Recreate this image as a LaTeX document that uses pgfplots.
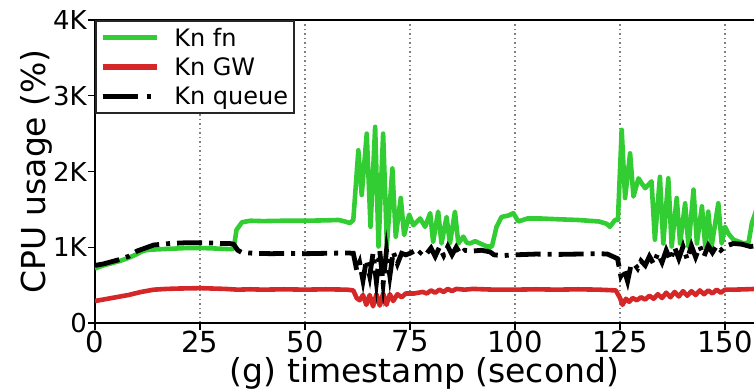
\documentclass[border=0pt]{standalone}
\usepackage{fontspec}
\setmainfont{DejaVu Sans}
\usepackage{pgfplots}
\pgfplotsset{compat=1.18}
\definecolor{kgreen}{RGB}{50,205,50}
\definecolor{kred}{RGB}{214,39,40}
\begin{document}
\begin{tikzpicture}
\begin{axis}[
  name=ax,
  scale only axis,
  width=659pt, height=303pt,
  xmin=0, xmax=156.9, ymin=0, ymax=4000,
  axis y line*=left,
  axis line style={line width=1.6pt},
  xtick={0,25,50,75,100,125,150},
  xticklabels={0,25,50,75,100,125,150},
  ytick={0,1000,2000,3000,4000},
  yticklabels={0,1K,2K,3K,4K},
  /pgf/number format/assume math mode=true,
  tick align=outside,
  major tick length=7pt,
  tick style={line width=1.4pt, black},
  xtick pos=bottom,
  xticklabel style={font=\fontsize{29}{29}\selectfont, inner sep=0.5pt},
  yticklabel style={font=\fontsize{26}{26}\selectfont, inner sep=1pt},
  xmajorgrids,
  major grid style={gray, line width=1.5pt, dash pattern=on 1.5pt off 3pt},
  xlabel={(g) timestamp (second)},
  ylabel={CPU usage (\%)},
  label style={font=\fontsize{33}{33}\selectfont},
  xlabel style={inner sep=0pt, yshift=-4pt},
  ylabel style={inner sep=0pt},
  clip=true,
  legend style={at={(0,1)}, anchor=north west, draw=black!85, line width=1.6pt,
    fill=white, font=\fontsize{24}{24}\selectfont, inner xsep=4pt, inner ysep=5pt,
    row sep=6pt, /tikz/every odd column/.append style={column sep=13pt}},
  legend cell align=left,
  legend image code/.code={\draw[#1] (0pt,0pt) -- (54pt,0pt);},
]
\addplot[kgreen, line width=4.6pt, line join=round, legend image post style={line width=5.5pt}] coordinates {
(0,720) (1,740) (2,760) (4,790) (6,820) (8,860) (10,910) (11,940) (12,960) (14,970) (16,975) (18,980) (20,985) (22,990) (25,990) (28,985) (30,980) (32,975) (33,980) (33.7,1230) (35,1330) (37,1350) (40,1345) (45,1350) (50,1350) (55,1355) (58,1360) (59.5,1340) (60.7,1320) (61.5,1360) (62.7,2280) (63.5,1690) (64.7,2500) (65.6,1270) (66.7,2590) (67.5,1010) (68.6,2500) (69.5,1030) (70.8,2040) (71.6,1140) (72.8,1650) (73.6,1160) (74.8,1430) (75.8,1290) (77.4,1380) (78.6,1270) (79.8,1450) (80.5,1070) (81.7,1470) (82.5,1050) (83.7,1400) (84.5,1050) (85.7,1470) (86.5,1050) (87.7,1140) (88.5,1060) (89.3,1050) (90.5,1080) (91.7,1050) (93.3,1010) (94.5,1010) (95.6,1270) (96.8,1400) (98.5,1420) (99.6,1450) (100.8,1340) (103,1380) (106,1380) (110,1370) (115,1360) (120,1340) (121.8,1310) (122.6,1270) (123.8,1360) (124.5,1360) (125.4,2550) (126.2,1650) (127.4,2240) (128.2,1670) (129.4,1910) (130.2,1840) (131,1780) (132.5,1870) (133.3,1100) (134.5,1930) (135.3,1050) (136.5,1910) (137.3,1010) (138.5,1650) (139.3,1050) (140.5,1580) (141.3,1010) (142.5,1760) (143.3,1050) (144.5,1540) (145.3,1010) (146,1470) (146.8,1010) (148.4,1580) (149.2,1050) (150,1270) (150.8,1180) (152,1100) (154.4,1050) (155.6,1060) (156.4,1320) (157.5,1500)
};
\addlegendentry{Kn fn}
\addplot[kred, line width=4.6pt, line join=round, legend image post style={line width=5.5pt}] coordinates {
(0,290) (2,310) (5,340) (8,370) (11,410) (14,440) (17,450) (20,455) (25,460) (28,455) (31,450) (34,440) (37,445) (40,440) (45,445) (50,440) (55,445) (60,440) (61.5,430) (62.3,330) (63,300) (63.8,370) (64.6,240) (65.4,370) (66.2,220) (67,380) (67.8,230) (68.6,390) (69.4,240) (70.2,380) (71,290) (72,380) (73,340) (74,390) (76,390) (78,410) (79,390) (80,430) (81,400) (82,440) (83,410) (84,450) (85,420) (86,450) (88,440) (90,450) (95,440) (100,440) (105,445) (110,440) (115,445) (120,440) (124,430) (125,330) (125.6,240) (126.4,320) (127.2,280) (128,330) (129,300) (130,340) (131,310) (132,360) (133,320) (134,380) (135,330) (136,400) (137,340) (138,410) (139,350) (140,420) (141,360) (142,420) (143,370) (144,430) (145,380) (146,430) (147,390) (148,440) (149,400) (150,440) (152,440) (155,445) (157.5,450)
};
\addlegendentry{Kn GW}
\addplot[black, line width=4.8pt, dash pattern=on 25pt off 7pt on 4pt off 7pt,
  legend image post style={dash pattern=on 35pt off 9pt on 4pt off 20pt, line width=5.5pt}] coordinates {
(0,760) (2,780) (4,810) (6,840) (8,880) (10,950) (12,990) (14,1030) (16,1040) (18,1050) (20,1055) (22,1060) (25,1060) (28,1055) (30,1050) (32,1050) (33,1040) (34,960) (35,930) (38,920) (42,915) (46,920) (50,915) (55,920) (60,925) (61.5,920) (62.3,700) (63,800) (63.8,560) (64.6,830) (65.4,620) (66.2,920) (67,540) (67.8,950) (68.6,520) (69.4,960) (70.2,620) (71,940) (72,780) (73,920) (74,900) (75,920) (76,950) (77,900) (78,960) (79,920) (80,990) (81,880) (82,1000) (83,890) (84,1010) (85,900) (86,1000) (87,910) (88,960) (90,950) (92,960) (94,940) (95,900) (97,890) (100,900) (105,910) (110,905) (115,910) (120,915) (122,910) (123.4,875) (124.4,850) (125.2,620) (126,700) (126.8,550) (127.6,760) (128.4,780) (129.2,720) (130,820) (131,760) (132,880) (133,780) (134,920) (135,800) (136,960) (137,830) (138,1000) (139,850) (140,1010) (141,840) (142,1020) (143,870) (144,1010) (145,880) (146,1020) (147,930) (148,1020) (149,960) (150,1010) (152,1050) (154,1040) (156,1010) (157.5,1020)
};
\addlegendentry{Kn queue}
\end{axis}
\pgfresetboundingbox
\path ([shift={(-95pt,-67pt)}]ax.south west) rectangle ([shift={(0pt,20pt)}]ax.north east);
\end{tikzpicture}
\end{document}
